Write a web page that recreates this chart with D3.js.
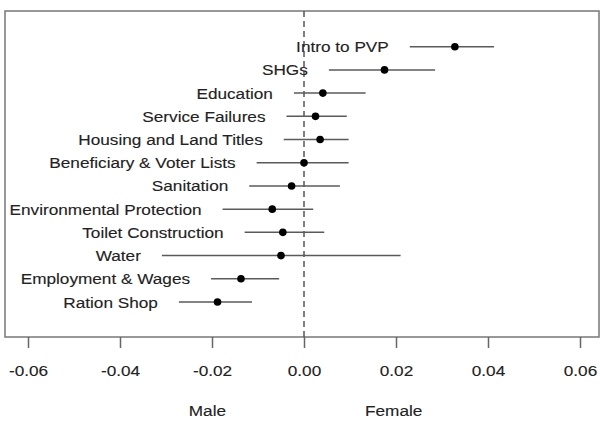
<!DOCTYPE html>
<html>
<head>
<meta charset="utf-8">
<script src="https://cdn.jsdelivr.net/npm/d3@7/dist/d3.min.js"></script>
<style>
  html, body { margin: 0; padding: 0; background: #fff; }
  svg { display: block; font-family: "Liberation Sans", Arial, Helvetica, sans-serif; }
  .lbl { fill: #222; stroke: #222; stroke-width: 0.12px; }
</style>
</head>
<body>
<svg id="chart" width="600" height="421"></svg>
<script>
// Topics, ordered top to bottom
const categories = [
  "Intro to PVP", "SHGs", "Education", "Service Failures",
  "Housing and Land Titles", "Beneficiary & Voter Lists", "Sanitation",
  "Environmental Protection", "Toilet Construction", "Water",
  "Employment & Wages", "Ration Shop"
];
// Point estimates (female minus male)
const estimates = [0.0328, 0.0175, 0.0041, 0.0025, 0.0035, 0.0000, -0.0027,
                   -0.0069, -0.0046, -0.0050, -0.0137, -0.0188];
// Confidence interval bounds
const lower = [0.0230, 0.0054, -0.0022, -0.0038, -0.0044, -0.0103, -0.0119,
               -0.0177, -0.0129, -0.0309, -0.0202, -0.0272];
const upper = [0.0413, 0.0285, 0.0134, 0.0093, 0.0097, 0.0097, 0.0078,
               0.0020, 0.0044, 0.0210, -0.0054, -0.0113];
const tickValues = [-0.06, -0.04, -0.02, 0.00, 0.02, 0.04, 0.06];
const sideLabels = [{ text: "Male", v: -0.021 }, { text: "Female", v: 0.0195 }];

const rows = categories.map((c, i) => ({ cat: c, est: estimates[i], lo: lower[i], hi: upper[i] }));

const svg = d3.select("#chart");
const box = { left: 5, right: 599, top: 11, bottom: 337 };
const stretch = "scale(1.11,1)";
const fontSize = 15.5;

const x = d3.scaleLinear().domain([-0.06, 0.06]).range([28, 580]);
const y = d3.scalePoint().domain(categories).range([46.7, 302]);

// Plot frame
svg.append("rect")
  .attr("x", box.left).attr("y", box.top)
  .attr("width", box.right - box.left).attr("height", box.bottom - box.top)
  .attr("fill", "none").attr("stroke", "#777").attr("stroke-width", 1.5);

// Zero reference line
svg.append("line")
  .attr("x1", x(0)).attr("x2", x(0))
  .attr("y1", box.top).attr("y2", box.bottom)
  .attr("stroke", "#555").attr("stroke-width", 1.5)
  .attr("stroke-dasharray", "6,4");

// Confidence intervals
svg.append("g").selectAll("line").data(rows).join("line")
  .attr("x1", d => x(d.lo)).attr("x2", d => x(d.hi))
  .attr("y1", d => y(d.cat)).attr("y2", d => y(d.cat))
  .attr("stroke", "#5a5a5a").attr("stroke-width", 1.5);

// Point estimates
svg.append("g").selectAll("circle").data(rows).join("circle")
  .attr("cx", d => x(d.est)).attr("cy", d => y(d.cat))
  .attr("r", 3.8).attr("fill", "#000");

// Labels to the left of each interval
svg.append("g").selectAll("g").data(rows).join("g")
  .attr("transform", d => `translate(${x(d.lo) - 21},${y(d.cat) + 5.5}) ${stretch}`)
  .append("text")
  .attr("class", "lbl")
  .attr("text-anchor", "end")
  .attr("font-size", fontSize)
  .text(d => d.cat);

// Bottom axis
const axis = d3.axisBottom(x)
  .tickValues(tickValues)
  .tickSize(11)
  .tickPadding(0)
  .tickFormat(d3.format(".2f"));

const gAxis = svg.append("g")
  .attr("transform", `translate(0,${box.bottom})`)
  .call(axis);
gAxis.select(".domain").remove();
gAxis.selectAll(".tick line").attr("stroke", "#666").attr("stroke-width", 1.5);
gAxis.selectAll(".tick text")
  .attr("class", "lbl")
  .attr("font-size", fontSize)
  .attr("font-family", "Liberation Sans, Arial, sans-serif")
  .attr("dy", null)
  .attr("y", 376 - box.bottom)
  .attr("transform", stretch)
  .text(d => d3.format(".2f")(d).replace("−", "-"));

// Direction labels
svg.append("g").selectAll("g").data(sideLabels).join("g")
  .attr("transform", d => `translate(${x(d.v)},416) ${stretch}`)
  .append("text")
  .attr("class", "lbl")
  .attr("text-anchor", "middle")
  .attr("font-size", fontSize)
  .text(d => d.text);
</script>
</body>
</html>
